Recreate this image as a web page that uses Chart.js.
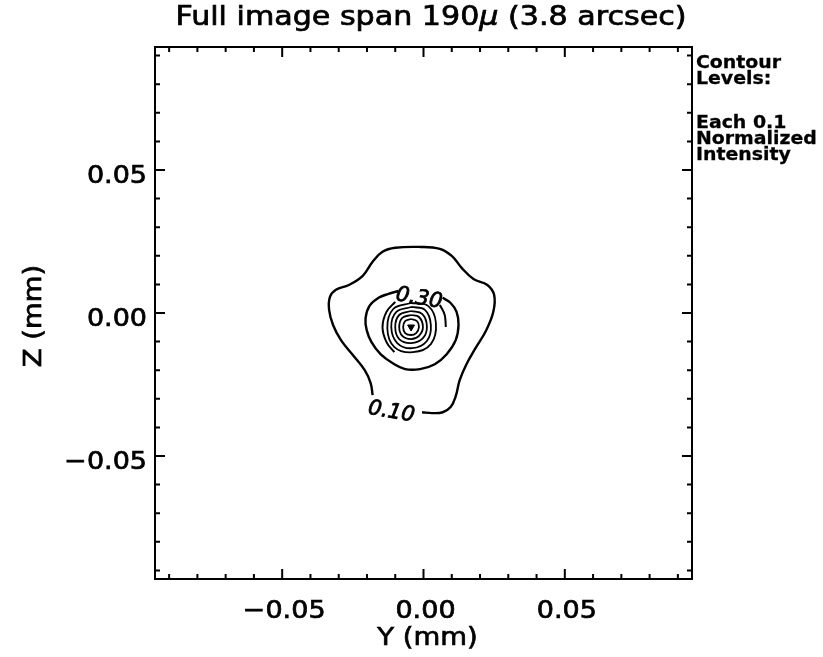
<!DOCTYPE html>
<html>
<head>
<meta charset="utf-8">
<script src="https://cdn.jsdelivr.net/npm/chart.js@4/dist/chart.umd.min.js"></script>
<style>
  html, body { margin: 0; padding: 0; background: #fff; }
  canvas { display: block; }
</style>
</head>
<body>
<canvas id="chart" width="823" height="657"></canvas>
<script>
// Contour paths in mm (Y, Z)
const contour10 = [
  [-0.0180, -0.0287], [-0.0187, -0.0245], [-0.0208, -0.0200], [-0.0250, -0.0147],
  [-0.0292, -0.0095], [-0.0320, -0.0042], [-0.0334, 0.0011], [-0.0331, 0.0056],
  [-0.0310, 0.0081], [-0.0264, 0.0098], [-0.0215, 0.0130], [-0.0180, 0.0179],
  [-0.0145, 0.0214], [-0.0100, 0.0228], [-0.0012, 0.0231], [0.0058, 0.0224],
  [0.0100, 0.0200], [0.0135, 0.0158], [0.0177, 0.0119], [0.0226, 0.0098],
  [0.0250, 0.0063], [0.0247, 0.0004], [0.0222, -0.0060], [0.0184, -0.0123],
  [0.0152, -0.0179], [0.0128, -0.0235], [0.0114, -0.0291], [0.0096, -0.0329],
  [0.0068, -0.0347], [0.0030, -0.0350], [-0.0005, -0.0347],
]
const contour30 = [
  [-0.0089, 0.0077], [-0.0124, 0.0067], [-0.0159, 0.0053], [-0.0191, 0.0025],
  [-0.0205, -0.0018], [-0.0201, -0.0060], [-0.0184, -0.0102], [-0.0152, -0.0144],
  [-0.0110, -0.0175], [-0.0065, -0.0196], [-0.0012, -0.0196], [0.0040, -0.0179],
  [0.0082, -0.0144], [0.0114, -0.0095], [0.0124, -0.0042], [0.0117, 0.0004],
  [0.0096, 0.0035], [0.0068, 0.0053],
]
const contour40Left = [
  [-0.0100, 0.0039], [-0.0131, 0.0004], [-0.0145, -0.0049], [-0.0131, -0.0102], [-0.0103, -0.0137],
]
const contour40Right = [
  [0.0058, 0.0028], [0.0075, -0.0007], [0.0079, -0.0049],
]
const ring50 = [
  [-0.0044, 0.0035], [0.0016, 0.0025], [0.0044, -0.0035], [0.0026, -0.0109],
  [-0.0037, -0.0137], [-0.0103, -0.0119], [-0.0128, -0.0053], [-0.0107, 0.0014],
]
const ring60 = [
  [-0.0044, 0.0021], [0.0005, 0.0011], [0.0026, -0.0042], [0.0012, -0.0098],
  [-0.0040, -0.0123], [-0.0093, -0.0105], [-0.0114, -0.0049], [-0.0096, 0.0004],
]
const ring70 = [
  [-0.0044, 0.0007], [-0.0005, -0.0003], [0.0012, -0.0046], [-0.0002, -0.0088],
  [-0.0044, -0.0105], [-0.0086, -0.0091], [-0.0100, -0.0049], [-0.0086, -0.0007],
]
const ring80 = [
  [-0.0044, -0.0007], [-0.0016, -0.0014], [-0.0002, -0.0049], [-0.0016, -0.0080],
  [-0.0044, -0.0091], [-0.0075, -0.0080], [-0.0086, -0.0049], [-0.0075, -0.0017],
]
const ring90 = [
  [-0.0044, -0.0021], [-0.0023, -0.0028], [-0.0016, -0.0049], [-0.0026, -0.0070],
  [-0.0044, -0.0077], [-0.0065, -0.0070], [-0.0072, -0.0049], [-0.0065, -0.0028],
]
const peak = [[-0.0044, -0.0049]]

const contourLabels = ["0.10", "0.30"]
const contourLabelAt = [[-0.0114, -0.0347], [-0.0016, 0.0050]]

const xMajor = [-0.05, 0, 0.05]
const xMajorLabels = ["\u22120.05", "0.00", "0.05"]
const yMajor = [-0.05, 0, 0.05]
const yMajorLabels = ["\u22120.05", "0.00", "0.05"]
const minorTicks = [-0.09, -0.08, -0.07, -0.06, -0.04, -0.03, -0.02, -0.01,
  0.01, 0.02, 0.03, 0.04, 0.06, 0.07, 0.08, 0.09]

const sideNote = ["Contour", "Levels:", "", "Each 0.1", "Normalized", "Intensity"]

const pts = (arr) => arr.map(([x, y]) => ({ x, y }))
const closed = (arr) => pts([...arr, arr[0]])

function line(data, width = 2.4) {
  return {
    data,
    showLine: true,
    borderColor: "#000",
    borderWidth: width,
    pointRadius: 0,
    tension: 0.4,
    fill: false,
  }
}

// heavy, slightly stretched text to mimic the plotter font
function stretched(ctx, text, x, y, sx, align, weight = 0.7) {
  ctx.save()
  ctx.translate(x, y)
  ctx.scale(sx, 1)
  ctx.textAlign = align
  ctx.fillText(text, 0, 0)
  if (weight) {
    ctx.lineWidth = weight
    ctx.strokeText(text, 0, 0)
  }
  ctx.restore()
}

const framePlugin = {
  id: "frame",
  afterDraw(chart) {
    const { ctx, chartArea: a, scales } = chart
    const sx = scales.x, sy = scales.y
    ctx.save()
    ctx.strokeStyle = "#000"
    ctx.fillStyle = "#000"
    ctx.lineWidth = 2
    ctx.strokeRect(a.left, a.top, a.right - a.left, a.bottom - a.top)

    // inward ticks on all four sides
    const tick = (v, len) => {
      const px = sx.getPixelForValue(v)
      const py = sy.getPixelForValue(v)
      ctx.beginPath()
      ctx.moveTo(px, a.bottom); ctx.lineTo(px, a.bottom - len)
      ctx.moveTo(px, a.top); ctx.lineTo(px, a.top + len)
      ctx.moveTo(a.left, py); ctx.lineTo(a.left + len, py)
      ctx.moveTo(a.right, py); ctx.lineTo(a.right - len, py)
      ctx.stroke()
    }
    minorTicks.forEach((v) => tick(v, 5))
    xMajor.forEach((v) => tick(v, 10))

    ctx.font = "25px 'DejaVu Sans'"
    ctx.textBaseline = "alphabetic"
    xMajor.forEach((v, i) => {
      stretched(ctx, xMajorLabels[i], sx.getPixelForValue(v) + 2, a.bottom + 39, 1.08, "center")
    })
    yMajor.forEach((v, i) => {
      stretched(ctx, yMajorLabels[i], a.left - 8, sy.getPixelForValue(v) + 13, 1.08, "right")
    })

    stretched(ctx, "Y (mm)", (a.left + a.right) / 2 + 4, 645, 1.1, "center")
    ctx.save()
    ctx.translate(41, (a.top + a.bottom) / 2 + 3)
    ctx.rotate(-Math.PI / 2)
    stretched(ctx, "Z (mm)", 0, 0, 1.1, "center")
    ctx.restore()

    // title, with an italic mu
    const parts = [
      ["Full image span 190", "26px 'DejaVu Sans'"],
      ["\u03bc", "italic 26px 'DejaVu Sans'"],
      [" (3.8 arcsec)", "26px 'DejaVu Sans'"],
    ]
    let w = 0
    parts.forEach(([t, f]) => { ctx.font = f; w += ctx.measureText(t).width })
    ctx.save()
    ctx.translate(431 - 511 / 2, 25)
    ctx.scale(511 / w, 1)
    ctx.textAlign = "left"
    ctx.lineWidth = 0.7
    let cx = 0
    parts.forEach(([t, f]) => {
      ctx.font = f
      ctx.fillText(t, cx, 0)
      ctx.strokeText(t, cx, 0)
      cx += ctx.measureText(t).width
    })
    ctx.restore()

    // side note
    ctx.font = "bold 18px 'DejaVu Sans'"
    const noteBase = [68, 84, 0, 128, 144, 160]
    sideNote.forEach((t, i) => {
      if (t) stretched(ctx, t, a.right + 4, noteBase[i], 1.05, "left", 0.3)
    })

    // contour level labels
    ctx.font = "italic 21px 'DejaVu Sans'"
    ctx.textBaseline = "middle"
    contourLabels.forEach((t, i) => {
      const [vx, vy] = contourLabelAt[i]
      ctx.save()
      ctx.translate(sx.getPixelForValue(vx), sy.getPixelForValue(vy))
      ctx.rotate(10 * Math.PI / 180)
      stretched(ctx, t, 0, 0, 1.0, "center", 0.8)
      ctx.restore()
    })
    ctx.restore()
  },
}

new Chart(document.getElementById("chart"), {
  type: "scatter",
  data: {
    datasets: [
      line(pts(contour10)),
      line(pts(contour30)),
      line(pts(contour40Left), 2),
      line(pts(contour40Right), 2),
      line(closed(ring50), 1.8),
      line(closed(ring60), 1.8),
      line(closed(ring70), 1.8),
      line(closed(ring80), 1.8),
      line(closed(ring90), 1.8),
      {
        data: pts(peak),
        pointStyle: "triangle",
        rotation: 180,
        pointRadius: 4,
        backgroundColor: "#000",
        borderColor: "#000",
        borderWidth: 1,
      },
    ],
  },
  options: {
    responsive: false,
    animation: false,
    layout: { padding: { left: 155, right: 131, top: 47, bottom: 78 } },
    plugins: { legend: { display: false }, tooltip: { enabled: false }, title: { display: false } },
    scales: {
      x: { type: "linear", min: -0.095, max: 0.095, display: false },
      y: { type: "linear", min: -0.093, max: 0.093, display: false },
    },
  },
  plugins: [framePlugin],
})
</script>
</body>
</html>
